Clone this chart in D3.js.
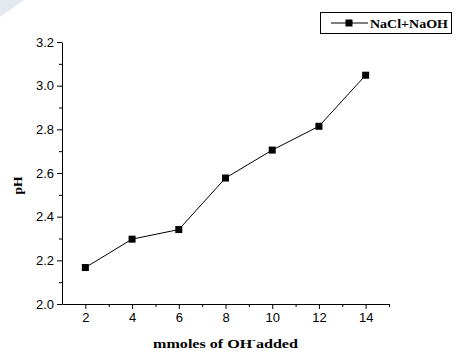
<!DOCTYPE html>
<html>
<head>
<meta charset="utf-8">
<script src="https://cdn.jsdelivr.net/npm/d3@7"></script>
<style>
	body { margin: 0; background: #fff; }
	.tick text { font-family: "Liberation Sans", Arial, sans-serif; font-size: 13px; fill: #000; }
	.title { font-family: "Liberation Serif", "Times New Roman", serif; font-weight: bold; font-size: 13.5px; }
</style>
</head>
<body>
<div id="chart"></div>
<script>

// data
const mmoles = [2, 4, 6, 8, 10, 12, 14];
const pH = [2.167, 2.297, 2.341, 2.577, 2.705, 2.814, 3.048];
const xTicks = [2, 4, 6, 8, 10, 12, 14];
const yTicks = [2.0, 2.2, 2.4, 2.6, 2.8, 3.0, 3.2];
const seriesName = "NaCl+NaOH";

const width = 462, height = 354;
let margin = {top: 42, right: 73, bottom: 50, left: 62};

let svg = d3.select("#chart")
	.append("svg")
	.attr("width", width)
	.attr("height", height);

// faint watermark corner
svg.append("polygon")
	.attr("points", "0,0 24,0 0,17")
	.attr("fill", "#e4e9ef");

let x = d3.scaleLinear()
	.domain([1, 15])
	.range([margin.left, width - margin.right]);

let y = d3.scaleLinear()
	.domain([2.0, 3.2])
	.range([height - margin.bottom, margin.top]);

//minor ticks
svg.append("g")
	.attr("transform", "translate(0," + y(2.0) + ")")
	.call(d3.axisBottom(x).tickValues([3, 5, 7, 9, 11, 13, 15]).tickSize(3).tickFormat(""))
	.call(g => g.select(".domain").remove());

svg.append("g")
	.attr("transform", "translate(" + x(1) + ",0)")
	.call(d3.axisLeft(y).tickValues([2.1, 2.3, 2.5, 2.7, 2.9, 3.1]).tickSize(3).tickFormat(""))
	.call(g => g.select(".domain").remove());

//major axes
svg.append("g")
	.attr("transform", "translate(0," + y(2.0) + ")")
	.call(d3.axisBottom(x).tickValues(xTicks).tickSize(5).tickSizeOuter(0).tickPadding(4).tickFormat(d3.format("d")));

svg.append("g")
	.attr("transform", "translate(" + x(1) + ",0)")
	.call(d3.axisLeft(y).tickValues(yTicks).tickSize(5).tickSizeOuter(0).tickPadding(3).tickFormat(d3.format(".1f")));

svg.selectAll(".domain, .tick line").attr("stroke", "#000").attr("stroke-width", 1);

//line + markers
let line = d3.line()
	.x((d, i) => x(mmoles[i]))
	.y(d => y(d));

svg.append("path")
	.datum(pH)
	.attr("fill", "none")
	.attr("stroke", "#000")
	.attr("stroke-width", 1)
	.attr("d", line);

svg.selectAll(".pt")
	.data(pH)
	.enter().append("rect")
	.attr("class", "pt")
	.attr("x", (d, i) => x(mmoles[i]) - 3.5)
	.attr("y", d => y(d) - 3.5)
	.attr("width", 7)
	.attr("height", 7)
	.attr("fill", "#000");

//axis titles
let xt = svg.append("text")
	.attr("class", "title")
	.attr("x", 153)
	.attr("y", 347.5)
	.attr("textLength", 145)
	.attr("lengthAdjust", "spacingAndGlyphs");
xt.append("tspan").text("mmoles of OH");
xt.append("tspan").attr("dy", -5).attr("font-size", "9px").text("-");
xt.append("tspan").attr("dy", 5).text("added");

svg.append("text")
	.attr("class", "title")
	.attr("transform", "translate(22,185.5) rotate(-90)")
	.attr("text-anchor", "middle")
	.text("pH");

//legend
let leg = svg.append("g");
leg.append("rect")
	.attr("x", 320.5).attr("y", 12.5)
	.attr("width", 131).attr("height", 21)
	.attr("fill", "#fff").attr("stroke", "#000");
leg.append("line")
	.attr("x1", 331).attr("x2", 368)
	.attr("y1", 23).attr("y2", 23)
	.attr("stroke", "#000");
leg.append("rect")
	.attr("x", 345.5).attr("y", 19.5)
	.attr("width", 7).attr("height", 7)
	.attr("fill", "#000");
leg.append("text")
	.attr("class", "title")
	.attr("x", 370).attr("y", 27.5)
	.attr("textLength", 78)
	.attr("lengthAdjust", "spacingAndGlyphs")
	.text(seriesName);

</script>
</body>
</html>
